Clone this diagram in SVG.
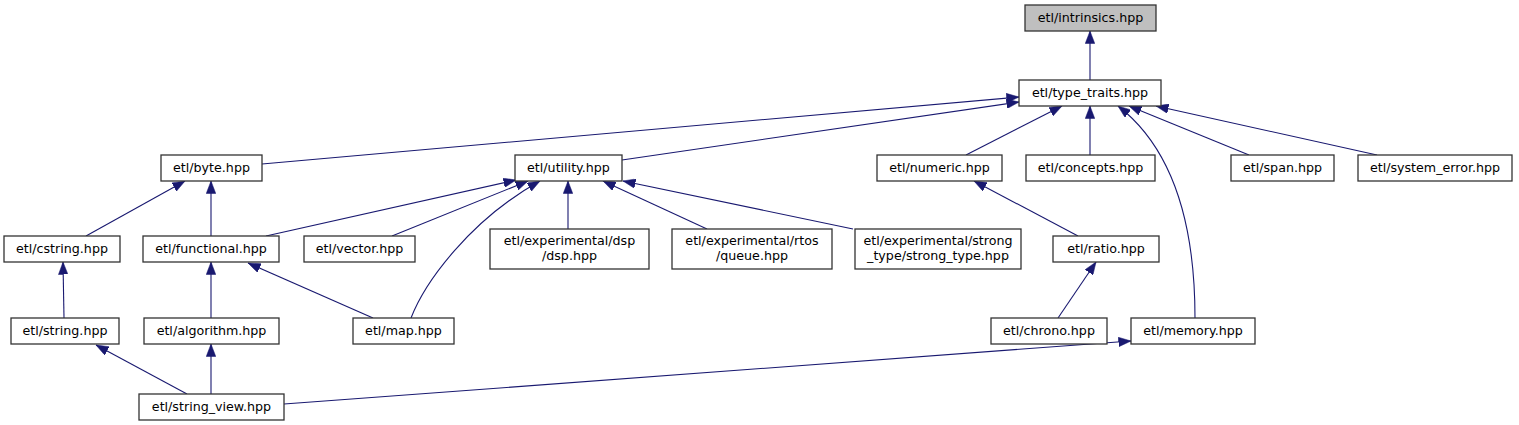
<svg xmlns="http://www.w3.org/2000/svg" width="1519" height="425" viewBox="0 0 1519 425">
<style>
.n rect{fill:#ffffff;stroke:#333333;stroke-width:1.3}
.n text{font-family:"DejaVu Sans",sans-serif;font-size:12.67px;text-anchor:middle;fill:#000}
#intrinsics rect{fill:#bfbfbf}
.e path{fill:none;stroke:#191970;stroke-width:1.1;marker-end:url(#arr)}
</style>
<defs>
<marker id="arr" markerUnits="userSpaceOnUse" viewBox="0 0 12.5 9.5" refX="12.5" refY="4.75" markerWidth="12.5" markerHeight="9.5" orient="auto">
<path d="M0,0 L12.5,4.75 L0,9.5 z" fill="#191970" stroke="#191970" stroke-width="0.5"/>
</marker>
</defs>
<rect width="1519" height="425" fill="#ffffff"/>
<g id="edges" class="e">
<path d="M1090,80 L1090,31"/>
<path d="M262,164 L1019,97"/>
<path d="M622,160 L1019,102"/>
<path d="M966,155 L1062,106"/>
<path d="M1090,155 L1090,106"/>
<path d="M1249,155 L1129,106"/>
<path d="M1377,155 L1156,106"/>
<path d="M1195,318 C1195,230 1175,150 1118,106"/>
<path d="M86,236 L185,181"/>
<path d="M211,236 L211,181"/>
<path d="M266,236 L516,180"/>
<path d="M392,236 L528,181"/>
<path d="M411,318 C425,282 470,220 540,181"/>
<path d="M568,229 L568,181"/>
<path d="M707,229 L603,181"/>
<path d="M853,229 L623,181"/>
<path d="M1078,236 L974,181"/>
<path d="M1058,318 L1096,262"/>
<path d="M64,318 L63,262"/>
<path d="M211,318 L211,262"/>
<path d="M373,318 L248,263"/>
<path d="M187,394 L96,345"/>
<path d="M211,394 L211,344"/>
<path d="M284,404 L1131,341"/>
</g>
<g id="intrinsics" class="n"><rect x="1025" y="5" width="131" height="26"/><text x="1090.5" y="22">etl/intrinsics.hpp</text></g>
<g id="type_traits" class="n"><rect x="1019" y="80" width="142" height="26"/><text x="1090" y="97">etl/type_traits.hpp</text></g>
<g id="byte" class="n"><rect x="161" y="155" width="101" height="26"/><text x="211.5" y="172">etl/byte.hpp</text></g>
<g id="utility" class="n"><rect x="515" y="155" width="107" height="26"/><text x="568.5" y="172">etl/utility.hpp</text></g>
<g id="numeric" class="n"><rect x="877" y="155" width="125" height="26"/><text x="939.5" y="172">etl/numeric.hpp</text></g>
<g id="concepts" class="n"><rect x="1026" y="155" width="129" height="26"/><text x="1090.5" y="172">etl/concepts.hpp</text></g>
<g id="span" class="n"><rect x="1231" y="155" width="103" height="26"/><text x="1282.5" y="172">etl/span.hpp</text></g>
<g id="system_error" class="n"><rect x="1358" y="155" width="154" height="26"/><text x="1435" y="172">etl/system_error.hpp</text></g>
<g id="cstring" class="n"><rect x="4" y="236" width="116" height="26"/><text x="62" y="253">etl/cstring.hpp</text></g>
<g id="functional" class="n"><rect x="143" y="236" width="136" height="26"/><text x="211" y="253">etl/functional.hpp</text></g>
<g id="vector" class="n"><rect x="304" y="236" width="111" height="26"/><text x="359.5" y="253">etl/vector.hpp</text></g>
<g id="dsp" class="n"><rect x="490" y="229" width="159" height="40"/><text x="569.5" y="245">etl/experimental/dsp</text><text x="569.5" y="260">/dsp.hpp</text></g>
<g id="queue" class="n"><rect x="672" y="229" width="160" height="40"/><text x="752" y="245">etl/experimental/rtos</text><text x="752" y="260">/queue.hpp</text></g>
<g id="strong_type" class="n"><rect x="855" y="229" width="166" height="40"/><text x="938" y="245">etl/experimental/strong</text><text x="938" y="260">_type/strong_type.hpp</text></g>
<g id="ratio" class="n"><rect x="1053" y="236" width="106" height="26"/><text x="1106" y="253">etl/ratio.hpp</text></g>
<g id="string" class="n"><rect x="11" y="318" width="108" height="26"/><text x="65" y="335">etl/string.hpp</text></g>
<g id="algorithm" class="n"><rect x="144" y="318" width="135" height="26"/><text x="211.5" y="335">etl/algorithm.hpp</text></g>
<g id="map" class="n"><rect x="353" y="318" width="101" height="26"/><text x="403.5" y="335">etl/map.hpp</text></g>
<g id="chrono" class="n"><rect x="991" y="318" width="116" height="26"/><text x="1049" y="335">etl/chrono.hpp</text></g>
<g id="memory" class="n"><rect x="1131" y="318" width="124" height="26"/><text x="1193" y="335">etl/memory.hpp</text></g>
<g id="string_view" class="n"><rect x="139" y="394" width="145" height="26"/><text x="211.5" y="411">etl/string_view.hpp</text></g>
</svg>
